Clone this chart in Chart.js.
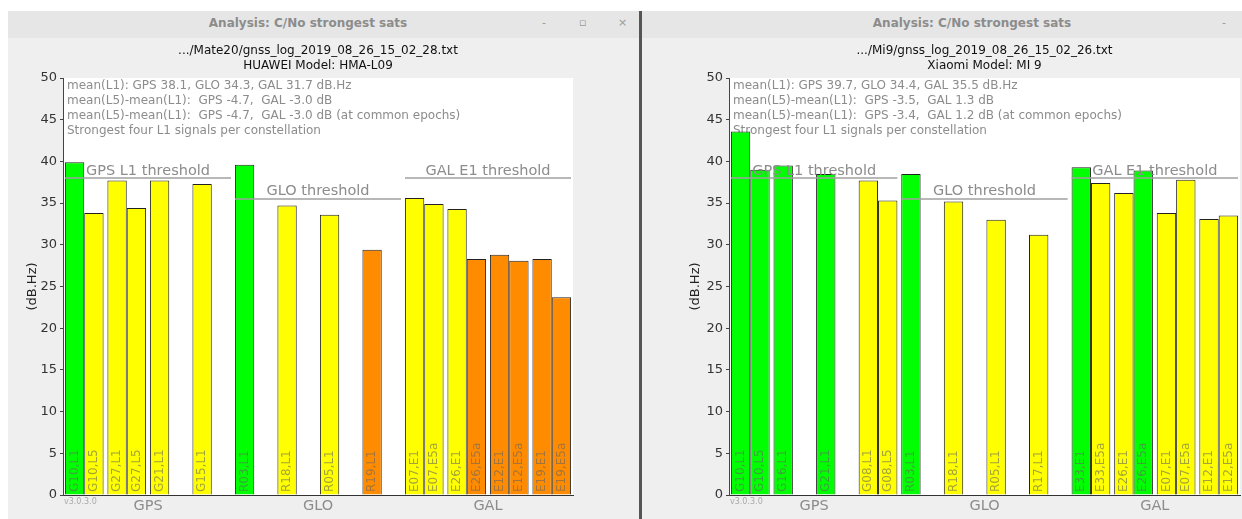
<!DOCTYPE html>
<html>
<head>
<meta charset="utf-8">
<title>C/No strongest sats</title>
<script src="https://cdn.jsdelivr.net/npm/chart.js@4.4.1/dist/chart.umd.min.js"></script>
<style>
    body { margin: 0; width: 1242px; height: 519px; overflow: hidden; background: #fff; position: relative; font-family: 'DejaVu Sans', sans-serif; }
    .win { position: absolute; top: 11px; bottom: 0; background: #efefef; }
    .titlebar { position: absolute; left: 0; right: 0; top: 0; height: 27px; background: #e6e6e6; }
    .wtitle { position: absolute; top: 5px; font-weight: bold; font-size: 12px; color: #8c8c8c; white-space: nowrap; transform: translateX(-50%); }
    .btn { position: absolute; top: 5px; font-size: 11px; color: #9a9a9a; }
    .sep { position: absolute; left: 639px; top: 11px; bottom: 0; width: 3px; background: #555; }
    .holder { position: absolute; top: 38px; }
</style>
</head>
<body>
<div class="win" style="left:8px;width:631px">
    <div class="titlebar">
        <div class="wtitle" style="left:300px">Analysis: C/No strongest sats</div>
        <div class="btn" style="left:534px">-</div>
        <div class="btn" style="left:571px">&#9643;</div>
        <div class="btn" style="left:610px">&#215;</div>
    </div>
</div>
<div class="sep"></div>
<div class="win" style="left:642px;right:0">
    <div class="titlebar">
        <div class="wtitle" style="left:330px">Analysis: C/No strongest sats</div>
        <div class="btn" style="left:580px">-</div>
    </div>
</div>
<div class="holder" style="left:8px"><canvas id="mate" width="624" height="481"></canvas></div>
<div class="holder" style="left:642px"><canvas id="mi" width="640" height="481"></canvas></div>

<script>
Chart.defaults.font.family = "'DejaVu Sans', sans-serif";

const constellations = ['GPS', 'GLO', 'GAL'];
const firstBand = ['L1', 'L1', 'E1'];
const secondBand = ['L5', 'L5', 'E5a'];
const thresholds = [38, 35.5, 38];
const yTicks = [0, 5, 10, 15, 20, 25, 30, 35, 40, 45, 50];

// Huawei Mate20
const mateSats = ['G10', 'G27', 'G21', 'G15', 'R03', 'R18', 'R05', 'R19', 'E07', 'E26', 'E12', 'E19'];
const mateL1 = [39.9, 37.7, 37.7, 37.3, 39.6, 34.7, 33.6, 29.4, 35.6, 34.3, 28.8, 28.3];
const mateL5 = [33.8, 34.4, null, null, null, null, null, null, 34.9, 28.3, 28.1, 23.7];
const mateNotes = [
    'mean(L1): GPS 38.1, GLO 34.3, GAL 31.7 dB.Hz',
    'mean(L5)-mean(L1):  GPS -4.7,  GAL -3.0 dB',
    'mean(L5)-mean(L1):  GPS -4.7,  GAL -3.0 dB (at common epochs)',
    'Strongest four L1 signals per constellation'
];

// Xiaomi Mi 9
const miSats = ['G10', 'G16', 'G21', 'G08', 'R03', 'R18', 'R05', 'R17', 'E33', 'E26', 'E07', 'E12'];
const miL1 = [43.6, 39.5, 38.5, 37.7, 38.5, 35.2, 33.0, 31.2, 39.3, 36.2, 33.8, 33.1];
const miL5 = [39.0, null, null, 35.3, null, null, null, null, 37.4, 38.9, 37.8, 33.5];
const miNotes = [
    'mean(L1): GPS 39.7, GLO 34.4, GAL 35.5 dB.Hz',
    'mean(L5)-mean(L1):  GPS -3.5,  GAL 1.3 dB',
    'mean(L5)-mean(L1):  GPS -3.4,  GAL 1.2 dB (at common epochs)',
    'Strongest four L1 signals per constellation'
];

const GRAY = '#8c8c8c';

function barColour(v, i) {
    if (v == null) return 'transparent';
    const g = Math.floor(i / 4);
    if (v >= thresholds[g]) return '#00ff00';
    if (v < 30) return '#ff8c00';
    return '#ffff00';
}

const decor = {
    id: 'decor',
    beforeDraw(chart) {
        const a = chart.chartArea, ctx = chart.ctx;
        ctx.save();
        ctx.fillStyle = '#fff';
        ctx.fillRect(a.left, a.top, a.right - a.left, a.bottom - a.top);
        ctx.restore();
    },
    beforeDatasetsDraw(chart, args, opts) {
        const a = chart.chartArea, ctx = chart.ctx;
        ctx.save();
        ctx.font = "12px 'DejaVu Sans'";
        ctx.fillStyle = GRAY;
        ctx.textBaseline = 'middle';
        opts.notes.forEach((t, i) => ctx.fillText(t, a.left + 4, a.top + 8 + i * 15));
        ctx.restore();
    },
    afterDatasetsDraw(chart, args, opts) {
        const a = chart.chartArea, ctx = chart.ctx;
        const x = chart.scales.x, y = chart.scales.y;
        const catW = (x.right - x.left) / opts.sats.length;
        ctx.save();

        // threshold lines
        constellations.forEach((c, g) => {
            const x0 = x.left + g * 4 * catW + 2, x1 = x.left + (g + 1) * 4 * catW - 2;
            const ly = y.getPixelForValue(thresholds[g]);
            ctx.strokeStyle = '#a0a0a0';
            ctx.lineWidth = 1.5;
            ctx.beginPath();
            ctx.moveTo(x0, ly);
            ctx.lineTo(x1, ly);
            ctx.stroke();
            ctx.font = "14.5px 'DejaVu Sans'";
            ctx.fillStyle = GRAY;
            ctx.textAlign = 'center';
            ctx.textBaseline = 'alphabetic';
            const name = c === 'GPS' ? 'GPS L1 threshold' : c === 'GLO' ? 'GLO threshold' : 'GAL E1 threshold';
            ctx.fillText(name, (x0 + x1) / 2, ly - 3.5);
        });

        // signal labels inside bars
        ctx.font = "12px 'DejaVu Sans'";
        ctx.fillStyle = 'rgba(100,100,100,0.6)';
        ctx.textAlign = 'left';
        ctx.textBaseline = 'middle';
        chart.data.datasets.forEach((ds, di) => {
            chart.getDatasetMeta(di).data.forEach((bar, i) => {
                if (ds.data[i] == null) return;
                const g = Math.floor(i / 4);
                const band = di === 0 ? firstBand[g] : secondBand[g];
                ctx.save();
                ctx.translate(bar.x, a.bottom - 3);
                ctx.rotate(-Math.PI / 2);
                ctx.fillText(opts.sats[i] + ',' + band, 0, 0);
                ctx.restore();
            });
        });

        ctx.font = "8px 'DejaVu Sans'";
        ctx.fillStyle = '#aaa';
        ctx.textBaseline = 'top';
        ctx.fillText('v3.0.3.0', a.left + 1, a.bottom + 3);
        ctx.restore();
    }
};

function makeChart(id, title, sats, l1, l5, notes, padL, padR) {
    return new Chart(document.getElementById(id), {
        type: 'bar',
        data: {
            labels: sats,
            datasets: [
                { data: l1, backgroundColor: l1.map(barColour), borderColor: '#222', borderWidth: 1 },
                { data: l5, backgroundColor: l5.map(barColour), borderColor: '#222', borderWidth: 1 }
            ]
        },
        options: {
            responsive: false,
            animation: false,
            devicePixelRatio: 1,
            categoryPercentage: 0.91,
            barPercentage: 1,
            layout: { padding: { left: padL, right: padR, top: 0, bottom: 0 } },
            plugins: {
                legend: { display: false },
                tooltip: { enabled: false },
                title: {
                    display: true,
                    text: title,
                    fullSize: false,
                    color: '#111',
                    font: { size: 12, weight: 'normal', lineHeight: 1.25 },
                    padding: { top: 5, bottom: 5 }
                },
                decor: { sats: sats, notes: notes }
            },
            scales: {
                x: {
                    type: 'category',
                    weight: 0,
                    grid: { display: false, drawTicks: false },
                    ticks: { display: false },
                    border: { display: true, color: '#333' },
                    afterFit: s => { s.height = 0; }
                },
                grp: {
                    type: 'category',
                    labels: constellations,
                    position: 'bottom',
                    weight: 1,
                    offset: true,
                    grid: { display: false, drawTicks: false },
                    border: { display: false },
                    ticks: { color: GRAY, font: { size: 14.5 }, padding: 3, maxRotation: 0 },
                    afterFit: s => { s.height = 24; }
                },
                y: {
                    min: 0,
                    max: 50,
                    afterBuildTicks: s => { s.ticks = yTicks.map(v => ({ value: v })); },
                    grid: { drawOnChartArea: false, tickLength: 3, color: '#444' },
                    border: { color: '#444' },
                    ticks: { color: '#333', font: { size: 13 }, padding: 3 },
                    title: { display: true, text: '(dB.Hz)', color: '#222', font: { size: 13 }, padding: { top: 3, bottom: 0 } },
                    afterFit: s => { s.width = (id === 'mate' ? 41 : 44); }
                }
            }
        },
        plugins: [decor]
    });
}

makeChart('mate', ['.../Mate20/gnss_log_2019_08_26_15_02_28.txt', 'HUAWEI Model: HMA-L09'],
    mateSats, mateL1, mateL5, mateNotes, 14, 59);
makeChart('mi', ['.../Mi9/gnss_log_2019_08_26_15_02_26.txt', 'Xiaomi Model: MI 9'],
    miSats, miL1, miL5, miNotes, 43, 42);
</script>
</body>
</html>
